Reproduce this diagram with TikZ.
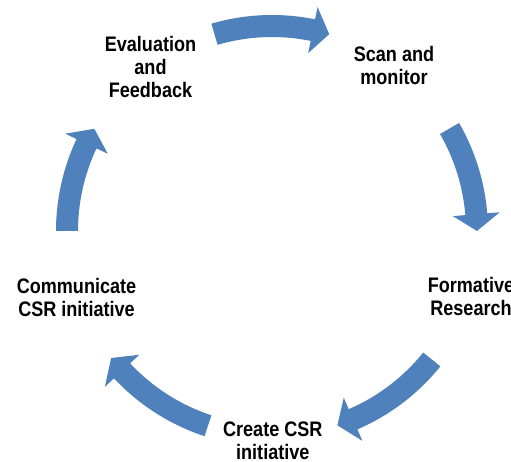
\documentclass[tikz,border=0pt]{standalone}
\usepackage{fontspec}
\newfontfamily\lblfont{Liberation Sans}[FakeStretch=0.86]
\usetikzlibrary{calc}
\definecolor{cycleblue}{HTML}{4F81BD}
\tikzset{
  cyclefill/.style={fill=cycleblue},
  steplabel/.style={font=\lblfont\bfseries\fontsize{21}{23}\selectfont, align=center, inner sep=0pt, anchor=center, text=black}
}
\newcommand{\cyclearrow}[2]{%
  \pgfmathsetmacro{\cyArTail}{#1}%
  \pgfmathsetmacro{\cyArTip}{#2}%
  \pgfmathsetmacro{\cyArBase}{#2 + 4.7*sign(#1-#2)}%
  \fill[cyclefill] ($(C)+(\cyArTail:216)$)
    arc[start angle=\cyArTail, end angle=\cyArBase, radius=216]
    -- ($(C)+(\cyArBase:228.5)$)
    -- ($(C)+(\cyArTip:205)$)
    -- ($(C)+(\cyArBase:181.5)$)
    -- ($(C)+(\cyArBase:194)$)
    arc[start angle=\cyArBase, end angle=\cyArTail, radius=194]
    -- cycle;
}
\begin{document}
\begin{tikzpicture}[x=1pt,y=1pt]
  \useasboundingbox (0,0) rectangle (511,462);
  \clip (0,0) rectangle (511,462);
  \fill[white] (0,0) rectangle (511,462);
  \coordinate (C) at (272,231);
  % arrows
  \cyclearrow{106.3}{73.8}
  \cyclearrow{30}{0}
  \cyclearrow{-38.8}{-71.4}
  \cyclearrow{-108.2}{-141.7}
  \cyclearrow{180}{150.1}
  % labels
  \node[steplabel] (eval) at (150.5,394.8) {Evaluation\\and\\Feedback};
  \node[steplabel] (scan) at (394,396.8) {Scan and\\monitor};
  \node[steplabel] (form) at (471,165.2) {Formative\\Research};
  \node[steplabel] (create) at (272.8,21.2) {Create CSR\\initiative};
  \node[steplabel] (comm) at (76.5,165) {Communicate\\CSR initiative};
\end{tikzpicture}
\end{document}
